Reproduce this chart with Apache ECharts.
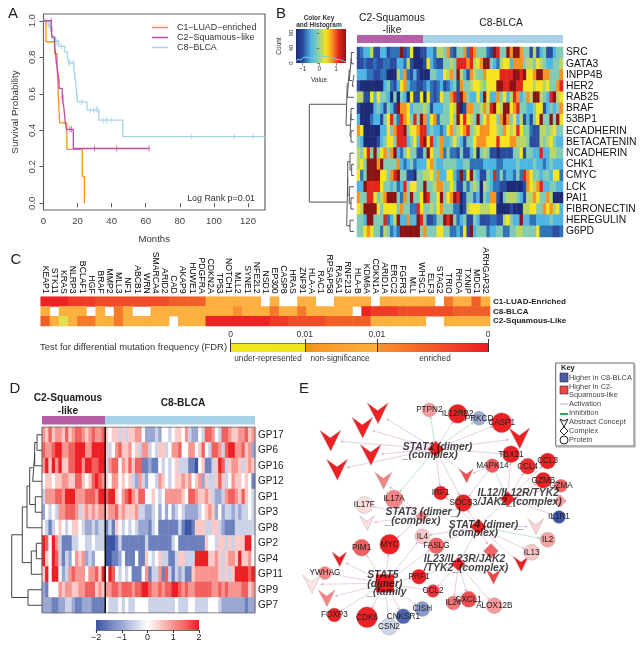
<!DOCTYPE html>
<html><head><meta charset="utf-8">
<style>html,body{margin:0;padding:0;background:#fff}#c{width:644px;height:650px}</style>
<script src="https://cdn.jsdelivr.net/npm/echarts@6/dist/echarts.min.js"></script>
</head><body><div id="c"></div>
<script>
// ---------- Panel A: survival curves (months, probability)
const kmC1 = [[0,1],[1.5,.885],[6.5,.82],[8,.74],[8.7,.59],[9.5,.44],[13.7,.295],[22.8,.147],[24,0]];
const kmC2 = [[0,1],[4.5,.96],[5,.91],[6.5,.87],[7.5,.78],[8.2,.73],[9,.68],[9.2,.63],[11,.58],[12,.52],[12.8,.44],[13.5,.405],[17.5,.30],[62,.30]];
const kmC8 = [[0,1],[3,.985],[3.5,.97],[4.5,.94],[5,.91],[7,.89],[9,.86],[12.5,.83],[14,.80],[15,.77],[17.8,.74],[18.3,.70],[19,.65],[19.5,.59],[20,.555],[25.5,.51],[32.5,.455],[46.5,.365],[130,.365]];
const censorC2 = [[4.5,1],[5,.955],[6.5,.87],[7.5,.78],[8.5,.68],[11.5,.58],[13.5,.405],[15.5,.405],[16.5,.405],[30,.30],[43,.30],[62,.30]];
const censorC8 = [[1,1],[2,1],[2.5,.99],[3,.98],[4,.97],[5,.91],[6,.905],[6.5,.89],[7.5,.885],[8,.88],[10.5,.86],[14.5,.77],[15.5,.77],[17.5,.77],[18.5,.70],[19.7,.595],[22.5,.555],[27.5,.51],[29.5,.51],[31,.515],[32,.51],[35,.455],[37,.455],[40,.455],[87,.365],[112,.365],[123,.365]];
const kmYTicks = [0,.2,.4,.6,.8,1];
const kmNames = ['C1\u2212LUAD\u2212enriched','C2\u2212Squamous\u2212like','C8\u2212BLCA'];

// ---------- Panel B: protein heatmap (levels 0 to 9)
const bRowNames = ['SRC','GATA3','INPP4B','HER2','RAB25','BRAF','53BP1','ECADHERIN','BETACATENIN','NCADHERIN','CHK1','CMYC','LCK','PAI1','FIBRONECTIN','HEREGULIN','G6PD'];
const bGroupCounts = [20,42];
const bRows = [
"1233511331222912600113325547214"+"4728744421984497997441513411344",
"1121121122113325100016321144548"+"8878567994325663777455465433445",
"3332211220"+"0053721310"+"0044336574"+"9"+"5317544766"+"6688889989"+"6679977444"+"7",
"1000000034"+"2136732211"+"2321231234"+"1"+"7445665466"+"6998899886"+"6656656447"+"8",
"5511636443"+"0404306116"+"0621264478"+"1"+"9743363963"+"3746358734"+"7599543895"+"6",
"1000034314"+"3197763444"+"5413334465"+"9"+"0177445758"+"9659967844"+"3346613434"+"7",
"3000233146"+"8428764849"+"7367244464"+"9"+"6865494676"+"6479746351"+"3146944949"+"6",
"7600000336"+"4788946678"+"8343323674"+"5"+"6784567776"+"6547656864"+"4211554564"+"4",
"4300001346"+"6488834638"+"9683473346"+"4"+"3144677766"+"6866677555"+"4111545643"+"3",
"5468494674"+"7932464411"+"4964472422"+"1"+"4113504541"+"1011114461"+"4433833554"+"4",
"5649997944"+"4473234233"+"3674334444"+"3"+"3442222333"+"3223333433"+"3343323433"+"3",
"6249999664"+"7894411044"+"5564733663"+"2"+"9269431143"+"8242332428"+"7644344366"+"2",
"3398888644"+"3423846644"+"9445774464"+"1"+"1424540543"+"2211000001"+"7657833443"+"3",
"7448864579"+"9942749446"+"9844694679"+"8"+"0144230437"+"7104555431"+"5576447500"+"0",
"6599996466"+"6647442286"+"4454674442"+"2"+"0156665556"+"6000010005"+"5664476756"+"3",
"4439944482"+"3593373398"+"4112449894"+"2"+"3411431112"+"2115643393"+"3223333433"+"3",
"4467644254"+"2329999994"+"7444664422"+"3"+"2619344423"+"3442244554"+"4446222211"+"2"
];
const bMerges = [[0,1,2.7],[2,3,1.7],[-1,-2,4.7],[-3,4,6.7],[5,6,3],[7,8,3],[-5,-6,4],[-4,-7,8],[10,11,2.3],[9,-9,4],[13,14,3],[12,-11,4.7],[-10,-12,6.3],[15,16,4],[-13,-14,7.3],[-8,-15,44.7]];
const keyHistX = [-1.4,-1.3,-1.2,-1.1,-1,-.9,-.8,-.7,-.6,-.5,-.4,-.3,-.2,-.1,0,.1,.2,.3,.4,.5,.6,.7,.8,.9,1,1.1,1.2,1.3,1.4,1.5,1.6];
const keyHistY = [4,10,15,8,14,10,16,12,14,18,12,15,16,17,20,20,18,18,17,16,15,14,13,12,10,10,9,7,6,5,3];

// ---------- Panel C: mutation FDR (levels 0 to 9, "." = no value)
const cGenes = ['KEAP1','STK11','KRAS','NLRP3','BCLAF1','HGF','BRAF','MMP2','MLL3','NF1','ABCB1','WRN','SMARCA4','ARID2','CAD','AKAP9','HUWE1','PDGFRA','CDKN2A','TP53','NOTCH1','MLL2','SYNE1','NFE2L2','NSD1','EP300','CASP8','HRAS','ZNF91','HLA-A','RAC1','RPSAP58','RASA1','RNF213','HLA-B','KDM6A','CDKN1A','ARID1A','ERCC2','FGFR3','MLL','WHSC1','ELF3','STAG2','TRIO','RHOA','TXNIP','MDC1','ARHGAP32'];
const cRowNames = ['C1-LUAD-Enriched','C8-BLCA','C2-Squamous-Like'];
const cRows = [
"999888"+"77777777"+"6666"+"222222"+"."+"2"+".."+"22"+".."+"2222"+"."+"222222"+"."+"5"+"22"+"6"+"2",
"2.222.2.52..222222222"+"4"+"222"+"5"+"22"+"5"+"22222"+"."+"98887777776666",
"6202"+"55"+"22"+"5"+"22222"+"."+"222"+"9999999"+"88"+"7777"+"66666"+"222222"+".."+"22222"
];
const fdrPositions = [0,74,146,257];
const fdrLabels = ['0','0.01','0.01','0'];

// ---------- Panel D: gene program heatmap (levels 0 to 8)
const dRowNames = ['GP17','GP6','GP16','GP12','GP1','GP3','GP8','GP2','GP4','GP11','GP9','GP7'];
const dGroupCounts = [19,45];
const dRows = [
"6575665756"+"776567667"+"5455353556"+"6422232443"+"4554632243"+"7764377655"+"66756",
"7667886677"+"888668888"+"5346755645"+"3663435534"+"6674466457"+"4377637886"+"67562",
"6858685577"+"886887788"+"3677465757"+"7112114343"+"4533311045"+"1135873566"+"53565",
"4554556655"+"775457876"+"5466454532"+"6324436543"+"4556564562"+"5335753465"+"54541",
"3666776888"+"666777688"+"7885467865"+"7744543466"+"6665477655"+"6532236776"+"57543",
"2434366777"+"635656566"+"5667565556"+"3322342424"+"2343222234"+"5652423323"+"23343",
"4313454345"+"543223233"+"1315434343"+"2221341111"+"1131001555"+"3355321113"+"33333",
"8748631113"+"344334333"+"0001311111"+"1131111111"+"3411111111"+"5443553535"+"55884",
"8548731324"+"656232444"+"0011241114"+"1154345331"+"1355333888"+"8556535665"+"85564",
"5848842367"+"666466758"+"4874343411"+"1461336173"+"1323115666"+"6666535358"+"88878",
"2144465665"+"566777565"+"6677677767"+"7887667677"+"8876766777"+"7766767666"+"67756",
"2221122332"+"112221111"+"4333434334"+"4443333333"+"3433344333"+"3444322222"+"22122"
];
const dMerges = [[0,1,5],[-1,2,7.3],[-2,3,9.3],[4,5,6.7],[-3,-4,12.3],[-5,6,15],[7,8,5.7],[-7,9,10.7],[-6,-8,19.7],[10,11,14],[-9,-10,30.3]];

// ---------- Panel E: network (layout units)
const proteinNames = ['PTPN2','IL12RB2','PRKCD','CASP1','TBX21','CCL3','CCL4','MAPK14','GZMB','GZMA','IL17A','IRF1','SOCS3','IL17F','IL1R1','IL4','FASLG','MYC','PIM1','IL2','IL13','YWHAG','PRF1','CCL2','CXCL1','IL24','ALOX12B','CISH','CNKSR1','CDK6','FOXP3','CSN2'];
const proteinX = [373,458,522,590,618,728,668,562,715,768,267,407,475,178,762,352,394,254,170,728,680,60,342,384,491,445,568,352,295,186,88,252];
const proteinY = [105,116,130,143,238,258,274,272,316,332,372,354,384,390,426,484,512,508,518,494,532,594,605,648,673,684,692,702,724,727,720,755];
const proteinExpr = [.45,1,-.5,1,1,1,.95,.75,1,.7,.55,1,1,.15,-1,.25,.7,1,.72,.42,.25,.55,1,.9,.8,.62,.45,-.6,-.9,1,1,-.25];
const proteinSize = [14,19,14,20,17,16,16,14,16,13,18,14,17,17,13,15,16,20,17,15,16,13,15,13,16,14,16,15,15,21,14,17];
const complexNames = ['STAT1','STAT3','IL12','cx4','STAT4','cx6','IL23','STAT5'];
const complexX = [392,350,608,765,520,558,460,240];
const complexY = [222,424,372,378,455,528,567,625];
const complexExpr = [1,.55,1,.42,1,.7,1,1];
const complexSize = [16,12,15,13,16,15,14,18];
const conceptX = [218,172,76,197,96,235,643,484,186,692,103,648,565,20,65];
const conceptY = [115,158,197,240,284,317,190,303,444,455,553,567,605,628,670];
const conceptExpr = [1,1,1,1,1,.55,1,.8,.15,.2,1,1,.85,.12,.55];
const conceptSize = [21,21,21,21,21,17,21,14,15,16,15,15,15,18,17];
const activationLinks = [
['STAT1','k0'],['STAT1','k1'],['STAT1','k2'],['STAT1','k3'],['STAT1','k4'],['STAT1','IL12RB2'],['STAT1','CASP1'],['STAT1','k6'],['STAT1','TBX21'],['STAT1','IRF1'],['STAT1','k7'],['STAT1','SOCS3'],
['STAT3','IL17F'],['STAT3','k8'],['STAT3','MYC'],['STAT3','k5'],['IL17A','STAT3'],
['IL12','CCL4'],['IL12','CCL3'],['IL12','GZMB'],['IL12','GZMA'],['IL12','cx4'],['IL12','IL1R1'],['IL12','STAT4'],['IL12','TBX21'],['MAPK14','SOCS3'],['MAPK14','k7'],
['STAT4','IL13'],['STAT4','k9'],['STAT4','k11'],['STAT4','cx6'],['STAT4','FASLG'],['STAT4','IL4'],['STAT4','IRF1'],['STAT4','SOCS3'],
['IL23','CCL2'],['IL23','IL24'],['IL23','CXCL1'],['IL23','ALOX12B'],['IL23','k12'],['IL23','PRF1'],['IL23','STAT4'],
['STAT5','FOXP3'],['STAT5','CDK6'],['STAT5','CSN2'],['STAT5','CNKSR1'],['STAT5','CISH'],['STAT5','PRF1'],['STAT5','CCL2'],['STAT5','IL4'],['STAT5','FASLG'],['STAT5','MYC'],['STAT5','PIM1'],['STAT5','k10'],['STAT5','YWHAG'],['STAT5','k13'],['STAT5','k14']
];
const inhibitionLinks = [['STAT1','PTPN2'],['STAT1','PRKCD'],['STAT1','IL17A'],['STAT4','IL2'],['MAPK14','IL12'],['IL12','STAT3']];
const hubText = ['STAT1 (dimer)','_(complex)','STAT3 (dimer_)','_(complex)','IL12/IL12R/TYK2','/JAK2_(complex)','STAT4 (dimer)_','(complex)','IL23/IL23R/JAK2','/TYK2_(complex)','STAT5','(dimer)','_(family'];
const hubTextX = [292,292,240,240,516,516,430,430,355,355,185,185,185];
const hubTextY = [215,240,412,438,355,380,450,475,553,580,600,626,652];

// ---------- helpers
const FF = '"Liberation Sans",Arial,sans-serif';
const grids=[], xAxes=[], yAxes=[], series=[], visualMaps=[], graphics=[];
function addGrid(g,x,y){grids.push(Object.assign({containLabel:false},g));const i=grids.length-1;
  xAxes.push(Object.assign({gridIndex:i},x));yAxes.push(Object.assign({gridIndex:i},y));return i;}
const hidden={show:false};
function T(text,x,y,font,fill,align,rot){
  graphics.push({type:'text',x:x,y:y,rotation:rot||0,z:50,silent:true,style:{text,x:0,y:0,font:font+' '+FF,fill:fill||'#222',align:align||'center',verticalAlign:'middle'}});
}
function R(x,y,w,h,fill,stroke,lw){graphics.push({type:'rect',z:45,silent:true,shape:{x,y,width:w,height:h},style:{fill:fill||'none',stroke:stroke||'none',lineWidth:lw||0}});}
function dendro(merges,n){
  const pos=[],pts=[];const get=r=>r>=0?{y:r+.5,h:0}:pos[-r-1];
  merges.forEach(m=>{const a=get(m[0]),b=get(m[1]);pts.push([a.h,a.y],[m[2],a.y],[m[2],b.y],[b.h,b.y],['-','-']);pos.push({y:(a.y+b.y)/2,h:m[2]});});
  return pts;
}
function cells(rows){const d=[];rows.forEach((r,y)=>{for(let x=0;x<r.length;x++){if(r[x]!=='.')d.push([x,y,+r[x]]);}});return d;}
function heat(gi,data,colors,max){
  series.push({type:'heatmap',xAxisIndex:gi,yAxisIndex:gi,data,silent:true,progressive:0,emphasis:{disabled:true},itemStyle:{borderWidth:0}});
  visualMaps.push({show:false,seriesIndex:series.length-1,dimension:2,min:0,max,inRange:{color:colors}});
}
function groupBar(gi,counts,colors){counts.forEach((c,i)=>series.push({type:'bar',xAxisIndex:gi,yAxisIndex:gi,stack:'g'+gi,data:[c],barWidth:'100%',silent:true,itemStyle:{color:colors[i]}}));}
const MAG='#b75fa6', LB='#a6d1e8';
function range(n){return Array.from({length:n},(_,i)=>i);}
function grad(stops){return {type:'linear',x:0,y:0,x2:1,y2:0,colorStops:stops};}

// ---------- Panel A
let g=addGrid({left:43.5,top:14,width:221.5,height:196,show:true,borderColor:'#666',borderWidth:1.2,backgroundColor:'#fff'},
 {type:'value',min:0,max:130,interval:20,splitLine:hidden,axisLine:{show:false},axisTick:{length:4,lineStyle:{color:'#555'}},axisLabel:{margin:6,fontSize:9.6,color:'#444',fontFamily:FF,showMaxLabel:false},name:'Months',nameLocation:'middle',nameGap:24,nameTextStyle:{fontSize:9.6,color:'#333',fontFamily:FF}},
 {type:'value',min:-.037,max:1.037,splitLine:hidden,axisLine:{show:false},axisTick:{length:4,customValues:kmYTicks,lineStyle:{color:'#555'}},axisLabel:{customValues:kmYTicks,rotate:90,margin:6,fontSize:9.6,color:'#444',fontFamily:FF,formatter:v=>v.toFixed(1)},name:'Survival Probability',nameLocation:'middle',nameGap:23,nameRotate:90,nameTextStyle:{fontSize:9.8,color:'#333',fontFamily:FF}});
const kmColors=['#f7941d','#b8509f','#a6d3e8'];
[kmC8,kmC1,kmC2].forEach((d,i)=>{const k=[2,0,1][i];series.push({type:'line',name:kmNames[k],xAxisIndex:g,yAxisIndex:g,data:d,step:'end',showSymbol:false,lineStyle:{width:1.3,color:kmColors[k]},itemStyle:{color:kmColors[k]},silent:true});});
[[censorC8,2],[censorC2,1]].forEach(c=>series.push({type:'scatter',xAxisIndex:g,yAxisIndex:g,data:c[0],symbol:'rect',symbolSize:[1,6],itemStyle:{color:kmColors[c[1]]},silent:true}));
T('Log Rank p=0.01',255,199,'8.9px','#333','right');
T('A',13,14,'15px','#222');

// ---------- Panel B
g=addGrid({left:296,top:29,width:50,height:34,show:true,borderWidth:0,backgroundColor:grad([{offset:0,color:'#1f2a7a'},{offset:.14,color:'#2b4ba0'},{offset:.3,color:'#4fb6e3'},{offset:.42,color:'#7fcbb6'},{offset:.6,color:'#f6e51e'},{offset:.72,color:'#f79420'},{offset:.86,color:'#e3241f'},{offset:1,color:'#8c1314'}])},
 {type:'value',min:-1.4,max:1.6,splitLine:hidden,axisLine:{show:false},axisTick:{customValues:[-1,0,1],length:2.5,lineStyle:{color:'#555',width:.7}},axisLabel:{customValues:[-1,0,1],margin:3,fontSize:6.5,color:'#333',fontFamily:FF,formatter:v=>String(v).replace('-','\u2212')}},
 {type:'value',min:0,max:90.7,splitLine:hidden,axisLine:{show:false},axisTick:{customValues:[0,40,80],length:2.5,lineStyle:{color:'#555',width:.7}},axisLabel:{customValues:[0,40,80],rotate:90,margin:2,fontSize:6,color:'#333',fontFamily:FF}});
series.push({type:'line',xAxisIndex:g,yAxisIndex:g,data:keyHistX.map((x,i)=>[x,keyHistY[i]]),showSymbol:false,lineStyle:{width:1,color:'#75d2ef'},silent:true});
T('Color Key',319,18,'bold 6.5px','#333');T('and Histogram',319,25.5,'bold 6.5px','#333');
T('Value',319,80,'6.5px','#333');T('Count',279,46,'6.5px','#333','center',Math.PI/2);
g=addGrid({left:357,top:35,width:206,height:8},{type:'value',min:0,max:62,show:false},{type:'category',data:['g'],show:false});
groupBar(g,bGroupCounts,[MAG,LB]);
g=addGrid({left:306,top:47,width:48,height:190},{type:'value',min:0,max:48,inverse:true,show:false},{type:'value',min:0,max:17,inverse:true,show:false});
series.push({type:'line',xAxisIndex:g,yAxisIndex:g,data:dendro(bMerges,17),showSymbol:false,connectNulls:false,lineStyle:{width:1,color:'#555'},silent:true});
g=addGrid({left:357,top:47,width:206,height:190},{type:'category',data:range(62),show:false},
 {type:'category',data:bRowNames,inverse:true,position:'right',axisLine:{show:false},axisTick:{show:false},axisLabel:{interval:0,margin:3,fontSize:10.3,color:'#111',fontFamily:FF}});
heat(g,cells(bRows),['#1d2a78','#2b4ba0','#2f72b8','#4fb6e3','#82cbb4','#b9d768','#f6e51e','#f79420','#e3241f','#8c1314'],9);
T('C2-Squamous',392,18,'10.3px','#222');T('-like',392,30,'10.3px','#222');
T('C8-BLCA',501,23,'10.3px','#222');
T('B',281,14,'15px','#222');

// ---------- Panel C
g=addGrid({left:40.7,top:296.7,width:449.3,height:29.3},
 {type:'category',data:cGenes,position:'top',axisLine:{show:false},axisTick:{show:false},axisLabel:{interval:0,rotate:90,margin:3,fontSize:8.7,color:'#000',fontFamily:FF}},
 {type:'category',data:cRowNames,inverse:true,position:'right',axisLine:{show:false},axisTick:{show:false},axisLabel:{interval:0,margin:3,fontSize:8.1,fontWeight:'bold',color:'#222',fontFamily:FF}});
heat(g,cells(cRows),['#dfe24e','#f6cf45','#fbb040','#f9a238','#f79032','#f4792b','#f15f29','#ef4d27','#ee3a26','#ed2224'],9);
g=addGrid({left:230.7,top:343,width:257.3,height:9,show:true,borderWidth:0,backgroundColor:grad([{offset:0,color:'#f3e81c'},{offset:.288,color:'#efe41c'},{offset:.288,color:'#f6931e'},{offset:.568,color:'#fdb040'},{offset:.568,color:'#f9962e'},{offset:1,color:'#ed1c24'}])},
 {type:'value',min:0,max:257,position:'top',splitLine:{show:true,lineStyle:{color:'#333',width:1}},axisLine:{show:true,onZero:false,lineStyle:{color:'#555',width:.7}},axisTick:{customValues:fdrPositions,length:4,lineStyle:{color:'#333'}},axisLabel:{customValues:fdrPositions,margin:4,fontSize:8.5,color:'#333',fontFamily:FF,showMaxLabel:true,showMinLabel:true,formatter:v=>fdrLabels[fdrPositions.indexOf(v)]}},
 {type:'value',min:0,max:1,show:false});
T('Test for differential mutation frequency (FDR)',227,347,'9.4px','#333','right');
T('under-represented',268,359,'8.2px','#333');T('non-significance',340,359,'8.2px','#333');T('enriched',435,359,'8.2px','#333');
T('C',16,260,'15px','#222');

// ---------- Panel D
g=addGrid({left:42,top:416,width:213,height:8.5},{type:'value',min:0,max:64,show:false},{type:'category',data:['g'],show:false});
groupBar(g,dGroupCounts,[MAG,LB]);
g=addGrid({left:8,top:427,width:34,height:186},{type:'value',min:0,max:34,inverse:true,show:false},{type:'value',min:0,max:12,inverse:true,show:false});
series.push({type:'line',xAxisIndex:g,yAxisIndex:g,data:dendro(dMerges,12),showSymbol:false,connectNulls:false,lineStyle:{width:1,color:'#444'},silent:true});
g=addGrid({left:42,top:427,width:213,height:186},{type:'category',data:range(64),show:false},
 {type:'category',data:dRowNames,inverse:true,position:'right',axisLine:{show:false},axisTick:{show:false},axisLabel:{interval:0,margin:3,fontSize:10,color:'#222',fontFamily:FF}});
const dPalette=['#3a54a4','#6c80bd','#9aa7d3','#ccd3e9','#ffffff','#fbc9c6','#f79591','#f2605d','#ed1f24'];
heat(g,cells(dRows),dPalette,8);
g=addGrid({left:42,top:427,width:213,height:186},{type:'value',min:0,max:64,show:false},{type:'value',min:0,max:12,inverse:true,show:false});
series.push({type:'line',z:6,xAxisIndex:g,yAxisIndex:g,data:[[0,0],[64,0],[64,12],[0,12],[0,0]],showSymbol:false,lineStyle:{width:1,color:'#666'},silent:true});
series.push({type:'line',z:7,xAxisIndex:g,yAxisIndex:g,data:[[dGroupCounts[0],0],[dGroupCounts[0],12]],showSymbol:false,lineStyle:{width:1.4,color:'#000'},silent:true});
g=addGrid({left:96,top:620,width:103,height:10,show:true,borderWidth:0,backgroundColor:grad(dPalette.map((c,i)=>({offset:i/8,color:c})))},
 {type:'value',min:-2,max:2,interval:1,splitLine:hidden,axisLine:{show:true,onZero:false,lineStyle:{color:'#333',width:.7}},axisTick:{length:3,lineStyle:{color:'#333'}},axisLabel:{margin:3,fontSize:9,color:'#222',fontFamily:FF,formatter:v=>String(v).replace('-','\u2212')}},
 {type:'value',min:0,max:1,show:false});
T('C2-Squamous',68,398,'bold 10.2px','#222');T('-like',68,411,'bold 10.2px','#222');
T('C8-BLCA',183,403,'bold 10.2px','#222');
T('D',15,389,'15px','#222');

// ---------- Panel E
function exprColor(v){
  if(v<0){const a=-v;const m=(p,q)=>Math.round(p+(q-p)*a);return `rgb(${m(255,59)},${m(255,85)},${m(255,165)})`;}
  const m=(p,q)=>Math.round(p+(q-p)*v);return `rgb(${m(255,237)},${m(255,32)},${m(255,36)})`;
}
const nodes=[];
const edgeStyle=e=>({borderColor:'#aaa',borderWidth:.4,color:exprColor(e)});
const CHEVRON='path://M0 0L50 36L100 0L52 100Z';
conceptX.forEach((x,i)=>nodes.push({name:'k'+i,value:[x,conceptY[i]],symbol:CHEVRON,symbolSize:conceptSize[i],itemStyle:edgeStyle(conceptExpr[i]),label:{show:false}}));
complexNames.forEach((n,i)=>nodes.push({name:n,value:[complexX[i],complexY[i]],symbol:n==='STAT5'?'rect':'diamond',symbolSize:complexSize[i],itemStyle:edgeStyle(complexExpr[i]),label:{show:false}}));
proteinNames.forEach((n,i)=>nodes.push({name:n,value:[proteinX[i],proteinY[i]],symbol:'circle',symbolSize:proteinSize[i],itemStyle:edgeStyle(proteinExpr[i]),label:{show:true,position:'inside',fontSize:8.2,color:'#222',fontFamily:FF}}));
const links=activationLinks.map(l=>({source:l[0],target:l[1],lineStyle:{color:'#d2a6d0',width:.6,opacity:.9}}))
 .concat(inhibitionLinks.map(l=>({source:l[0],target:l[1],lineStyle:{color:'#8fcf9e',width:.6,opacity:.9}})));
g=addGrid({left:305,top:375,width:339,height:275},{type:'value',min:0,max:1017,show:false},{type:'value',min:0,max:825,inverse:true,show:false});
series.push({type:'graph',coordinateSystem:'cartesian2d',xAxisIndex:g,yAxisIndex:g,layout:'none',data:nodes,links,edgeSymbol:['none','arrow'],edgeSymbolSize:2.5,silent:true,emphasis:{disabled:true},z:3});
series.push({type:'scatter',z:8,xAxisIndex:g,yAxisIndex:g,symbolSize:1,itemStyle:{color:'transparent'},silent:true,
 data:hubText.map((t,i)=>({value:[hubTextX[i],hubTextY[i]],label:{show:true,position:'right',distance:0,formatter:t,fontSize:10.4,fontWeight:'bold',fontStyle:'italic',color:'#111',fontFamily:FF}}))});
T('E',304,389,'15px','#222');

// key box
R(555.7,363,78.3,83,'#fff','#666',1);
graphics.push({type:'polyline',z:45,silent:true,shape:{points:[[556,447],[635,447],[635,364]]},style:{stroke:'#aaa',lineWidth:1.2,fill:'none'}});
T('Key',561,368,'bold 7.5px','#222','left');
R(560,373,8,9,'#4a5aa8','#333',.6);T('Higher in C8-BLCA',569,378,'7.4px','#444','left');
R(560,386,8,8,'#ee4444','#333',.6);T('Higher in C2-',569,387,'7.4px','#444','left');T('Squamous-like',569,395,'7.4px','#444','left');
graphics.push({type:'line',z:45,silent:true,shape:{x1:560,y1:404,x2:568,y2:404},style:{stroke:'#c58fc4',lineWidth:.8}});T('Activation',569,404,'7.4px','#444','left');
graphics.push({type:'line',z:45,silent:true,shape:{x1:560,y1:414,x2:568,y2:414},style:{stroke:'#2eaa55',lineWidth:2}});T('Inhibition',569,413,'7.4px','#444','left');
graphics.push({type:'polygon',z:45,silent:true,shape:{points:[[560,419],[564,421],[568,419],[564,427]]},style:{fill:'#fff',stroke:'#222',lineWidth:1}});T('Abstract Concept',569,422,'7.4px','#444','left');
graphics.push({type:'polygon',z:45,silent:true,shape:{points:[[564,427],[568,431],[564,435],[560,431]]},style:{fill:'#fff',stroke:'#222',lineWidth:1}});T('Complex',569,431,'7.4px','#444','left');
graphics.push({type:'circle',z:45,silent:true,shape:{cx:564,cy:440,r:4},style:{fill:'#fff',stroke:'#222',lineWidth:1}});T('Protein',569,440,'7.4px','#444','left');

const chart=echarts.init(document.getElementById('c'),null,{renderer:'canvas'});
chart.setOption({animation:false,backgroundColor:'#fff',textStyle:{fontFamily:FF},
 legend:{data:kmNames,orient:'vertical',left:152,top:23,itemGap:1,itemWidth:16,itemHeight:1.5,icon:'rect',selectedMode:false,padding:0,textStyle:{fontSize:8.9,color:'#333',fontFamily:FF,padding:[0,0,0,4]}},
 grid:grids,xAxis:xAxes,yAxis:yAxes,series,visualMap:visualMaps,graphic:{elements:graphics}});
</script></body></html>
